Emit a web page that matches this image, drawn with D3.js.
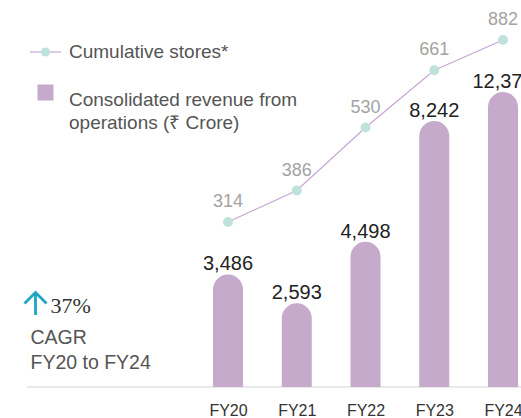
<!DOCTYPE html>
<html>
<head>
<meta charset="utf-8">
<script src="https://cdn.jsdelivr.net/npm/d3@7"></script>
<style>
  html, body { margin: 0; padding: 0; background: #fff; }
  svg { display: block; font-family: "Liberation Sans", Arial, Helvetica, sans-serif; }
</style>
</head>
<body>
<svg id="chart"></svg>
<script>
// данные
const years = ["FY20", "FY21", "FY22", "FY23", "FY24"];
const revenue = [3486, 2593, 4498, 8242, 12375];
const stores = [314, 386, 530, 661, 882];
const revenueLabels = ["3,486", "2,593", "4,498", "8,242", "12,375"];

const width = 521;
const height = 418;
const baseY = 387;
const barW = 30;
const barColor = "#c6aacc";
const dotColor = "#bfe3dc";
const lineColor = "#c6a6d2";

let svg = d3.select("#chart")
    .attr("width", width)
    .attr("height", height);

let scX = d3.scalePoint()
    .domain(years)
    .range([228, 503]);

// FY24 bar is capped in the original, so clamp the scale
let scY = d3.scaleLinear()
    .domain([0, 9140])
    .range([baseY, 92])
    .clamp(true);

let scS = d3.scaleLinear()
    .domain([314, 730])
    .range([222, 40])
    .clamp(true);

// baseline
svg.append("line")
    .attr("x1", 27).attr("x2", width)
    .attr("y1", baseY).attr("y2", baseY)
    .attr("stroke", "#d4d4d4")
    .attr("stroke-width", 1.2);

// bars with rounded tops
let barPath = (d, i) => {
    let x0 = scX(years[i]) - barW / 2;
    let top = scY(d);
    let r = barW / 2;
    return `M${x0},${baseY} L${x0},${top + r} A${r},${r} 0 0 1 ${x0 + barW},${top + r} L${x0 + barW},${baseY} Z`;
};

svg.selectAll(".bar")
    .data(revenue)
    .enter()
    .append("path")
    .attr("class", "bar")
    .attr("d", barPath)
    .style("fill", barColor);

svg.selectAll(".barLabel")
    .data(revenue)
    .enter()
    .append("text")
    .attr("x", (d, i) => scX(years[i]))
    .attr("y", d => scY(d) - 4)
    .attr("text-anchor", "middle")
    .style("font-size", "20px")
    .style("fill", "#222")
    .text((d, i) => revenueLabels[i]);

// line of stores
let line = d3.line()
    .x((d, i) => scX(years[i]))
    .y(d => scS(d));

svg.append("path")
    .datum(stores)
    .attr("d", line)
    .attr("fill", "none")
    .attr("stroke", lineColor)
    .attr("stroke-width", 1.2);

svg.selectAll(".dot")
    .data(stores)
    .enter()
    .append("circle")
    .attr("cx", (d, i) => scX(years[i]))
    .attr("cy", d => scS(d))
    .attr("r", 5)
    .style("fill", dotColor);

svg.selectAll(".storeLabel")
    .data(stores)
    .enter()
    .append("text")
    .attr("x", (d, i) => scX(years[i]))
    .attr("y", d => scS(d) - 15)
    .attr("text-anchor", "middle")
    .style("font-size", "18px")
    .style("fill", "#a3a3a3")
    .text(d => d);

// x axis labels
let axisX = d3.axisBottom(scX).tickSize(0);
let gx = svg.append("g")
    .attr("transform", `translate(0, ${baseY})`)
    .call(axisX);
gx.select(".domain").remove();
gx.selectAll("text")
    .attr("y", 29)
    .attr("dy", 0)
    .style("font-family", "'Liberation Sans', Arial, sans-serif")
    .style("font-size", "16px")
    .style("fill", "#333");

// legend
let legend = svg.append("g");
legend.append("line")
    .attr("x1", 30).attr("x2", 61)
    .attr("y1", 52).attr("y2", 52)
    .attr("stroke", lineColor)
    .attr("stroke-width", 1.2);
legend.append("circle")
    .attr("cx", 45.5).attr("cy", 52).attr("r", 4.5)
    .style("fill", dotColor);
legend.append("text")
    .attr("x", 69).attr("y", 57.5)
    .style("font-size", "19px")
    .style("fill", "#555")
    .text("Cumulative stores*");

legend.append("rect")
    .attr("x", 37.5).attr("y", 84.5)
    .attr("width", 16).attr("height", 16)
    .style("fill", barColor);
legend.append("text")
    .attr("x", 69).attr("y", 106)
    .style("font-size", "19px")
    .style("fill", "#555")
    .text("Consolidated revenue from");
legend.append("text")
    .attr("x", 69).attr("y", 128.5)
    .style("font-size", "19px")
    .style("fill", "#555")
    .text("operations (₹ Crore)");

// CAGR note
let note = svg.append("g");
note.append("path")
    .attr("d", "M35.5,315 L35.5,293 M24.5,303.5 L35.5,292.5 L46.5,303.5")
    .attr("fill", "none")
    .attr("stroke", "#1ca6c4")
    .attr("stroke-width", 2.8);
note.append("text")
    .attr("x", 50.5).attr("y", 312.5)
    .style("font-family", "'Liberation Serif', 'Times New Roman', serif")
    .style("font-size", "22px")
    .style("fill", "#333")
    .text("37%");
note.append("text")
    .attr("x", 30.5).attr("y", 343.5)
    .style("font-size", "19.5px")
    .style("fill", "#555")
    .text("CAGR");
note.append("text")
    .attr("x", 30.5).attr("y", 368.5)
    .style("font-size", "19.5px")
    .style("fill", "#555")
    .text("FY20 to FY24");
</script>
</body>
</html>
